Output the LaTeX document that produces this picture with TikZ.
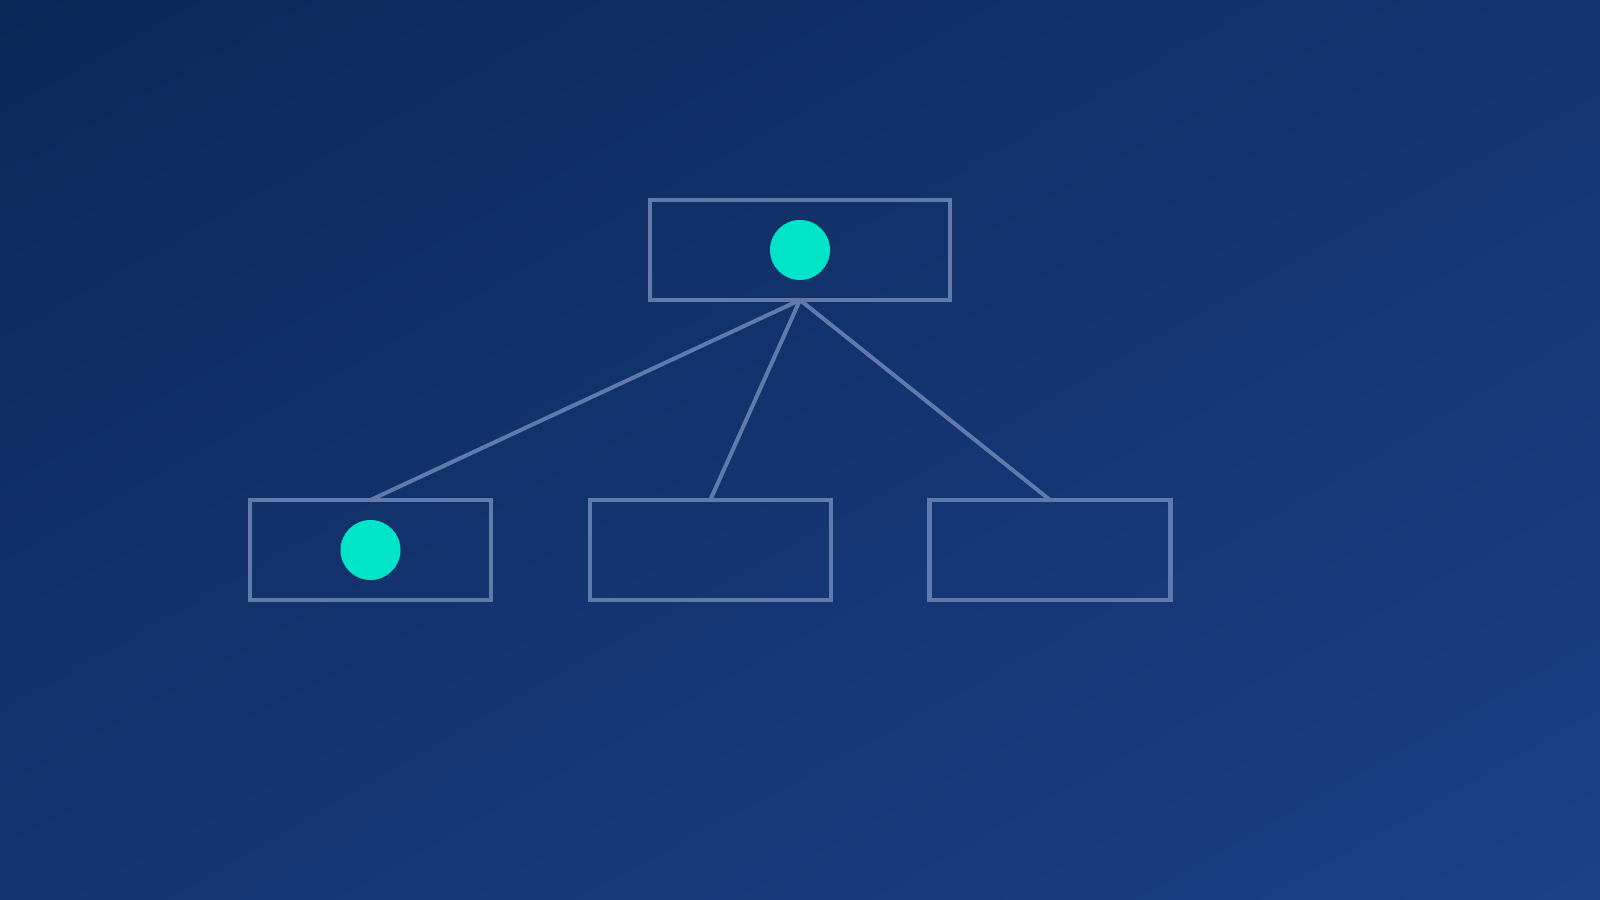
\documentclass[tikz,border=0pt]{standalone}
\usetikzlibrary{calc,shadings}
\definecolor{bgA}{HTML}{0C2859}
\definecolor{bgB}{HTML}{1B4088}
\definecolor{bgM}{HTML}{143470}
\definecolor{edge}{HTML}{5F7AAB}
\definecolor{dot}{HTML}{00E5C8}
\tikzset{
  box/.style={draw=edge, line width=4.5pt, minimum width=300pt, minimum height=100pt, inner sep=0pt, outer sep=0pt, anchor=north west},
  sbox/.style={box, minimum width=241pt},
  dotnode/.style={circle, fill=dot, minimum size=60pt, inner sep=0pt},
  link/.style={draw=edge, line width=4pt},
}
\begin{document}
\begin{tikzpicture}[x=1.0204pt,y=-1.0204pt]
\useasboundingbox (0,0) rectangle (1568,882);
\shade[upper left=bgA, lower right=bgB, upper right=bgM, lower left=bgM] (0,0) rectangle (1568,882);
\node[box] (top) at (637,196) {};
\node[sbox] (b1) at (245,490) {};
\node[sbox] (b2) at (578,490) {};
\node[sbox] (b3) at (911,490) {};
\node[dotnode] (d0) at (top.center) {};
\node[dotnode] (d1) at (b1.center) {};
\path[link] (top.south) -- (b1.north);
\path[link] (top.south) -- (b2.north);
\path[link] (top.south) -- (b3.north);
\end{tikzpicture}
\end{document}
